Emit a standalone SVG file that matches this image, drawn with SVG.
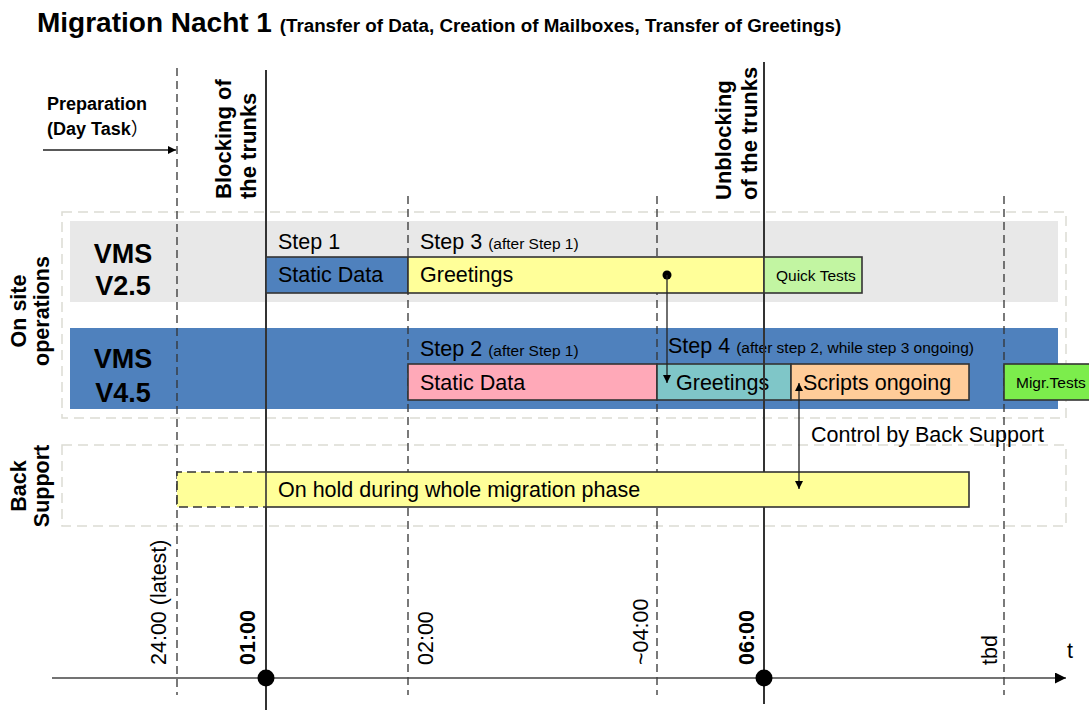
<svg xmlns="http://www.w3.org/2000/svg" width="1089" height="710" viewBox="0 0 1089 710">
<defs>
<style>
.t{font-family:"Liberation Sans",Arial,sans-serif;fill:#000}
.b{font-weight:bold}
.f{font-size:21.5px}
.s{font-size:15.5px}
.dash{stroke:#333;stroke-width:1.3;stroke-dasharray:8,5;fill:none}
.solid{stroke:#333;stroke-width:2;fill:none}
.frame{fill:none;stroke:#dcdcd4;stroke-width:1.5;stroke-dasharray:10,6}
.box{stroke:#333;stroke-width:1.6}
.conn{stroke:#222;stroke-width:1.3;fill:none}
</style>
<marker id="ah" viewBox="0 0 10 10" refX="10" refY="5" markerWidth="9" markerHeight="8" orient="auto-start-reverse" markerUnits="userSpaceOnUse">
<path d="M0,0 L10,5 L0,10 z" fill="#000"/>
</marker>
<marker id="ahBig" viewBox="0 0 10 10" refX="10" refY="5" markerWidth="12" markerHeight="11" orient="auto" markerUnits="userSpaceOnUse">
<path d="M0,0 L10,5 L0,10 z" fill="#000"/>
</marker>
</defs>
<rect width="1089" height="710" fill="#fff"/>

<g id="title">
<text class="t b" x="37" y="32" font-size="28">Migration Nacht 1 <tspan font-size="18.8">(Transfer of Data, Creation of Mailboxes, Transfer of Greetings)</tspan></text>
</g>

<g id="preparation">
<text class="t b" x="47" y="110" font-size="18">Preparation</text>
<text class="t b" x="47" y="135" font-size="18">(Day Task<tspan font-family="'Liberation Sans','Noto Sans CJK SC',sans-serif" font-weight="normal">）</tspan></text>
</g>

<g id="frames">
<rect class="frame" x="62" y="212" width="1004" height="206"/>
<rect class="frame" x="62" y="445" width="1004" height="81"/>
</g>

<g id="bands">
<rect x="70" y="221" width="988" height="81" fill="#e8e8e8"/>
<rect x="70" y="328" width="988" height="81" fill="#4f81bd"/>
</g>

<g id="lane-labels">
<text class="t b f" text-anchor="middle" transform="translate(26,311) rotate(-90)">On site</text>
<text class="t b f" text-anchor="middle" transform="translate(49,311) rotate(-90)">operations</text>
<text class="t b f" text-anchor="middle" transform="translate(26,486) rotate(-90)">Back</text>
<text class="t b f" text-anchor="middle" transform="translate(49,486) rotate(-90)">Support</text>
<text class="t b" font-size="27" text-anchor="middle" x="123" y="263">VMS</text>
<text class="t b" font-size="27" text-anchor="middle" x="123" y="295">V2.5</text>
<text class="t b" font-size="27" text-anchor="middle" x="123" y="368">VMS</text>
<text class="t b" font-size="27" text-anchor="middle" x="123" y="402">V4.5</text>
</g>

<g id="timeline">
<line class="dash" x1="177" y1="68" x2="177" y2="695"/>
<line class="solid" x1="266" y1="70" x2="266" y2="710"/>
<line class="dash" x1="408" y1="196" x2="408" y2="695"/>
<line class="dash" x1="657" y1="196" x2="657" y2="695"/>
<line class="solid" x1="764" y1="62" x2="764" y2="704"/>
<line class="dash" x1="1004" y1="196" x2="1004" y2="695"/>
</g>

<g id="markers">
<text class="t b" font-size="22" transform="translate(231,199) rotate(-90)">Blocking of</text>
<text class="t b" font-size="22" transform="translate(256,199) rotate(-90)">the trunks</text>
<text class="t b" font-size="22" transform="translate(731,200) rotate(-90)">Unblocking</text>
<text class="t b" font-size="22" transform="translate(757,200) rotate(-90)">of the trunks</text>
</g>

<g id="step1">
<text class="t f" x="278" y="249">Step 1</text>
<rect class="box" x="266" y="257" width="142" height="36" fill="#4f81bd"/>
<text class="t f" x="278" y="282">Static Data</text>
</g>

<g id="step3">
<text class="t f" x="420" y="249">Step 3 <tspan class="s">(after Step 1)</tspan></text>
<rect class="box" x="408" y="257" width="356" height="36" fill="#ffff99"/>
<text class="t f" x="420" y="282">Greetings</text>
</g>

<g id="quick-tests">
<rect class="box" x="764" y="257" width="98" height="36" fill="#c2f5a2"/>
<text class="t s" x="776" y="281">Quick Tests</text>
</g>

<g id="step2">
<text class="t f" x="420" y="356">Step 2 <tspan class="s">(after Step 1)</tspan></text>
<rect class="box" x="408" y="364" width="249" height="36" fill="#ffa9b8"/>
<text class="t f" x="420" y="390">Static Data</text>
</g>

<g id="step4">
<text class="t f" x="668" y="353">Step 4 <tspan class="s">(after step 2, while step 3 ongoing)</tspan></text>
<rect class="box" x="657" y="364" width="134" height="36" fill="#7fc6c8"/>
<text class="t f" x="676" y="390">Greetings</text>
</g>

<g id="scripts">
<rect class="box" x="791" y="364" width="178" height="36" fill="#ffcc99"/>
<text class="t f" x="803" y="390">Scripts ongoing</text>
</g>

<g id="migr-tests">
<rect class="box" x="1004" y="364" width="90" height="36" fill="#7ced4c"/>
<text class="t s" x="1016" y="388">Migr.Tests</text>
</g>

<g id="overlay-lines">
<line class="solid" x1="764" y1="328" x2="764" y2="409"/>
</g>

<g id="back-support">
<rect x="177" y="472" width="89" height="35" fill="#ffff99"/>
<path class="dash" d="M266,472 H177 V507 H266" style="stroke-dasharray:9,5;stroke-width:1.6"/>
<rect class="box" x="266" y="472" width="703" height="35" fill="#ffff99"/>
<text class="t f" x="278" y="497">On hold during whole migration phase</text>
</g>

<g id="control-label">
<text class="t f" x="811" y="442">Control by Back Support</text>
</g>

<g id="connectors">
<line class="conn" x1="43" y1="150" x2="176" y2="150" marker-end="url(#ah)"/>
<circle cx="667" cy="275" r="4.5" fill="#000"/>
<line class="conn" x1="667" y1="275" x2="667" y2="383" marker-end="url(#ah)"/>
<line class="conn" x1="799" y1="383" x2="799" y2="489" marker-start="url(#ah)" marker-end="url(#ah)"/>
<line stroke="#444" stroke-width="1.5" x1="52" y1="678" x2="1066" y2="678" marker-end="url(#ahBig)"/>
<circle cx="266" cy="678" r="8.5" fill="#000"/>
<circle cx="764" cy="678" r="8.5" fill="#000"/>
</g>

<g id="time-labels">
<text class="t f" transform="translate(166,665) rotate(-90)">24:00 (latest)</text>
<text class="t b f" transform="translate(255,665) rotate(-90)">01:00</text>
<text class="t f" transform="translate(433,665) rotate(-90)">02:00</text>
<text class="t f" transform="translate(648,665) rotate(-90)">~04:00</text>
<text class="t b f" transform="translate(754,665) rotate(-90)">06:00</text>
<text class="t f" transform="translate(997,665) rotate(-90)">tbd</text>
<text class="t f" x="1067" y="658">t</text>
</g>
</svg>
